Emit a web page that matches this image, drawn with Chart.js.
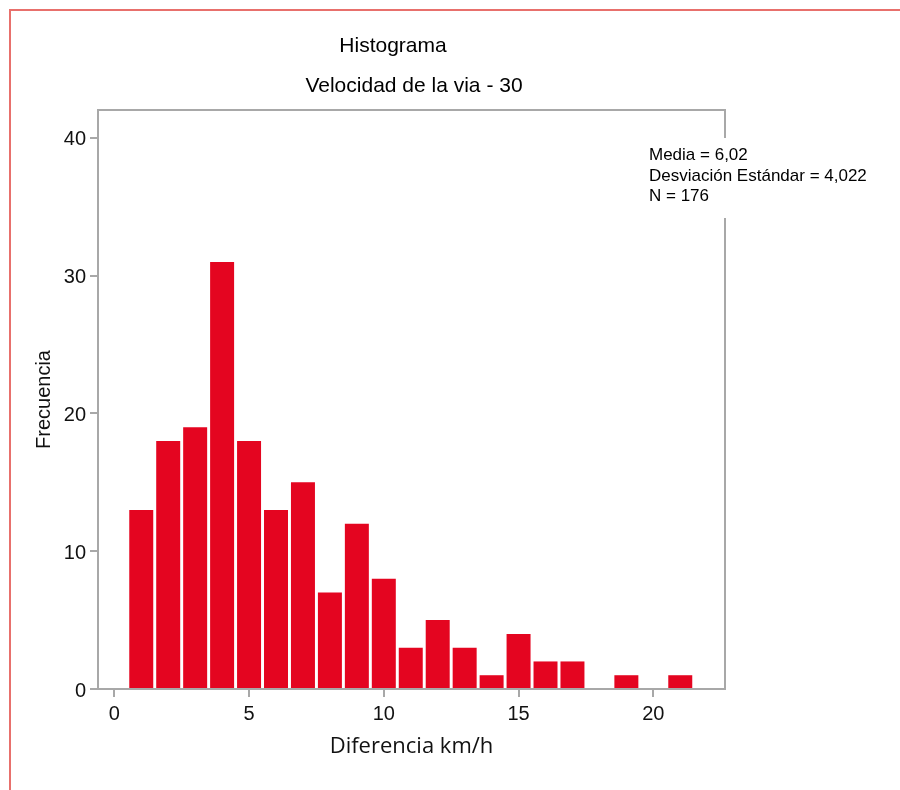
<!DOCTYPE html>
<html>
<head>
<meta charset="utf-8">
<script src="https://cdn.jsdelivr.net/npm/chart.js@4/dist/chart.umd.min.js"></script>
<style>
  html, body { margin: 0; padding: 0; background: #fff; overflow: hidden; }
</style>
</head>
<body>
<canvas id="myChart" width="900" height="790"></canvas>
<script>
// bins centres (km/h) and frequencies
var binCentres = [1, 2, 3, 4, 5, 6, 7, 8, 9, 10, 11, 12, 13, 14, 15, 16, 17, 18, 19, 20, 21];
var frecuencias = [13, 18, 19, 31, 18, 13, 15, 7, 12, 8, 3, 5, 3, 1, 4, 2, 2, 0, 1, 0, 1];
var xTicks = [0, 5, 10, 15, 20];
var yTicks = [0, 10, 20, 30, 40];

var titulo = "Histograma";
var subtitulo = "Velocidad de la via - 30";
var estadisticas = ["Media = 6,02", "Desviación Estándar = 4,022", "N = 176"];
var xTitulo = "Diferencia km/h";
var yTitulo = "Frecuencia";

var puntos = binCentres.map(function (c, i) {
	return { x: c, y: frecuencias[i] };
});

var frameColor = "#a8a8a8";

var decoPlugin = {
	id: "deco",
	beforeDraw: function (chart) {
		var ctx = chart.ctx;
		ctx.save();
		// outer red border (top + left)
		ctx.strokeStyle = "#e8706c";
		ctx.lineWidth = 2;
		ctx.beginPath();
		ctx.moveTo(10, 900);
		ctx.lineTo(10, 10);
		ctx.lineTo(900, 10);
		ctx.stroke();

		// titles
		ctx.fillStyle = "#000";
		ctx.font = "21px 'Liberation Sans', Arial, sans-serif";
		ctx.textAlign = "center";
		ctx.textBaseline = "alphabetic";
		ctx.fillText(titulo, 393, 52);
		ctx.fillText(subtitulo, 414, 92);
		ctx.restore();
	},
	afterDatasetsDraw: function (chart) {
		var ctx = chart.ctx;
		var a = chart.chartArea;
		ctx.save();
		ctx.strokeStyle = frameColor;
		ctx.lineWidth = 2;
		ctx.strokeRect(a.left, a.top, a.right - a.left, a.bottom - a.top);

		// stats box
		ctx.fillStyle = "#fff";
		ctx.fillRect(640, 138, 240, 80);
		ctx.fillStyle = "#000";
		ctx.font = "17px 'Liberation Sans', Arial, sans-serif";
		ctx.textAlign = "left";
		ctx.textBaseline = "alphabetic";
		estadisticas.forEach(function (t, i) {
			ctx.fillText(t, 649, 160 + i * 20.5);
		});
		ctx.restore();
	}
};

var ctx = document.getElementById("myChart").getContext("2d");

var myChart = new Chart(ctx, {
	type: "bar",
	data: {
		datasets: [{
			data: puntos,
			backgroundColor: "#e40520",
			borderWidth: 0,
			barPercentage: 0.89,
			categoryPercentage: 1
		}]
	},
	options: {
		responsive: false,
		animation: false,
		layout: { padding: { top: 110, right: 175, left: 0, bottom: 0 } },
		plugins: {
			legend: { display: false },
			tooltip: { enabled: false }
		},
		scales: {
			x: {
				type: "linear",
				min: -0.605,
				max: 22.66,
				offset: false,
				afterFit: function (s) { s.height = 101; },
				afterBuildTicks: function (s) {
					s.ticks = xTicks.map(function (v) { return { value: v }; });
				},
				border: { display: false },
				grid: {
					offset: false,
					drawOnChartArea: false,
					drawTicks: true,
					tickLength: 8,
					color: frameColor,
					lineWidth: 2
				},
				ticks: {
					color: "#111",
					padding: 5,
					maxRotation: 0,
					font: { family: "'Liberation Sans', Arial, sans-serif", size: 20 }
				},
				title: {
					display: true,
					text: xTitulo,
					color: "#111",
					font: { family: "'Open Sans', sans-serif", size: 22 },
					padding: { top: 0, bottom: 30 }
				}
			},
			y: {
				min: 0,
				max: 42.03,
				afterFit: function (s) { s.width = 98; },
				afterBuildTicks: function (s) {
					s.ticks = yTicks.map(function (v) { return { value: v }; });
				},
				border: { display: false },
				grid: {
					drawOnChartArea: false,
					drawTicks: true,
					tickLength: 8,
					color: frameColor,
					lineWidth: 2
				},
				ticks: {
					color: "#111",
					padding: 4,
					labelOffset: 2,
					font: { family: "'Liberation Sans', Arial, sans-serif", size: 20 }
				},
				title: {
					display: true,
					text: yTitulo,
					color: "#111",
					font: { family: "'Liberation Sans', Arial, sans-serif", size: 20 },
					padding: { top: 32, bottom: 0 }
				}
			}
		}
	},
	plugins: [decoPlugin]
});
</script>
</body>
</html>
